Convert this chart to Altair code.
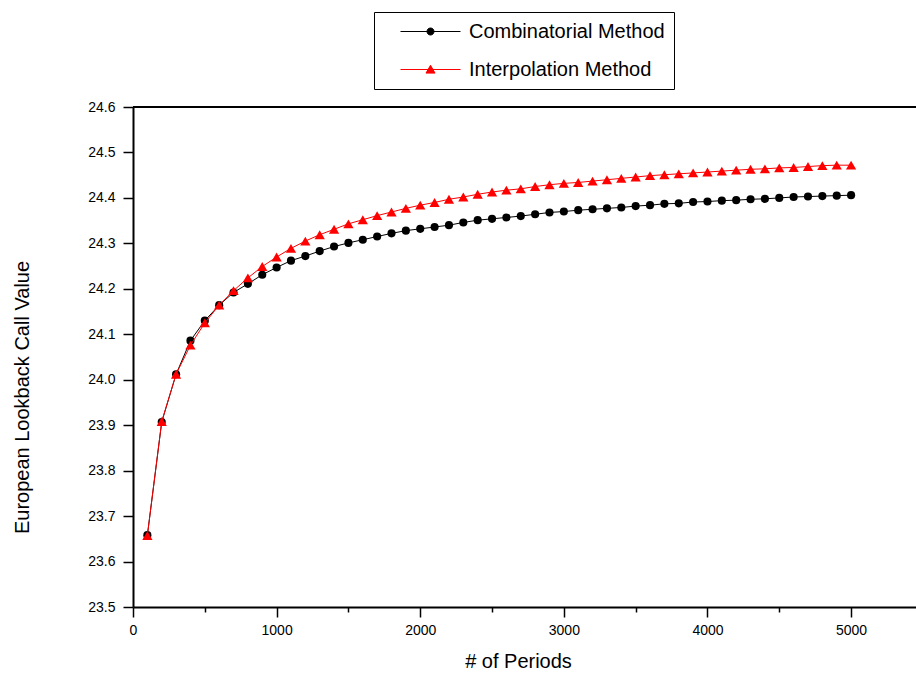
import altair as alt
import pandas as pd

periods = [100, 200, 300, 400, 500, 600, 700, 800, 900, 1000,
           1100, 1200, 1300, 1400, 1500, 1600, 1700, 1800, 1900, 2000,
           2100, 2200, 2300, 2400, 2500, 2600, 2700, 2800, 2900, 3000,
           3100, 3200, 3300, 3400, 3500, 3600, 3700, 3800, 3900, 4000,
           4100, 4200, 4300, 4400, 4500, 4600, 4700, 4800, 4900, 5000]

combinatorial = [23.658, 23.907, 24.012, 24.086, 24.130, 24.164, 24.192, 24.211, 24.231, 24.247,
                 24.262, 24.272, 24.283, 24.293, 24.301, 24.308, 24.315, 24.322, 24.328, 24.332,
                 24.336, 24.340, 24.346, 24.351, 24.354, 24.357, 24.360, 24.364, 24.368, 24.370,
                 24.373, 24.375, 24.377, 24.379, 24.382, 24.384, 24.387, 24.388, 24.391, 24.392,
                 24.394, 24.395, 24.397, 24.398, 24.400, 24.402, 24.403, 24.404, 24.405, 24.406]

interpolation = [23.657, 23.908, 24.012, 24.076, 24.125, 24.164, 24.196, 24.224, 24.249, 24.270,
                 24.289, 24.305, 24.319, 24.331, 24.343, 24.352, 24.361, 24.369, 24.377, 24.384,
                 24.390, 24.397, 24.402, 24.408, 24.413, 24.417, 24.420, 24.425, 24.429, 24.432,
                 24.434, 24.437, 24.440, 24.443, 24.446, 24.449, 24.451, 24.453, 24.455, 24.457,
                 24.459, 24.461, 24.463, 24.464, 24.466, 24.467, 24.469, 24.471, 24.472, 24.472]

series_names = ["Combinatorial Method", "Interpolation Method"]
series_colors = ["#000000", "#ff0000"]
x_ticks = [0, 500, 1000, 1500, 2000, 2500, 3000, 3500, 4000, 4500, 5000]
y_ticks = [23.5, 23.55, 23.6, 23.65, 23.7, 23.75, 23.8, 23.85, 23.9, 23.95, 24.0,
           24.05, 24.1, 24.15, 24.2, 24.25, 24.3, 24.35, 24.4, 24.45, 24.5, 24.55, 24.6]

df = pd.DataFrame({
    "periods": periods + periods,
    "value": combinatorial + interpolation,
    "series": [series_names[0]] * len(periods) + [series_names[1]] * len(periods),
})

FONT = "Liberation Sans"

x_enc = alt.X(
    "periods:Q",
    scale=alt.Scale(domain=[0, 5452], nice=False, zero=False),
    axis=alt.Axis(
        values=x_ticks,
        format="d",
        labelExpr="datum.value % 1000 == 0 ? datum.label : ''",
        tickSize={"condition": {"test": "datum.value % 1000 == 0", "value": 10}, "value": 5},
        tickWidth=1.5,
        domainWidth=2,
        domainColor="black",
        tickColor="black",
        labelColor="black",
        labelFont=FONT,
        labelFontSize=14,
        labelPadding=6,
        labelFlush=False,
        title="# of Periods",
        titleFont=FONT,
        titleFontSize=20,
        titleFontWeight="normal",
        titleColor="black",
        titleX=385,
        titleY=54,
        titleAlign="center",
        titleBaseline="middle",
        grid=False,
    ),
)

y_enc = alt.Y(
    "value:Q",
    scale=alt.Scale(domain=[23.5, 24.6], nice=False, zero=False),
    axis=alt.Axis(
        values=y_ticks,
        labelExpr="abs(datum.value * 10 - round(datum.value * 10)) < 0.001 ? format(datum.value, '.1f') : ''",
        tickSize={"condition": {"test": "abs(datum.value * 10 - round(datum.value * 10)) < 0.001", "value": 10}, "value": 5},
        tickWidth=1.5,
        domainWidth=2,
        domainColor="black",
        tickColor="black",
        labelColor="black",
        labelFont=FONT,
        labelFontSize=14,
        labelPadding=8,
        labelFlush=False,
        title="European Lookback Call Value",
        titleFont=FONT,
        titleFontSize=20,
        titleFontWeight="normal",
        titleColor="black",
        titleX=-111,
        titleY=290,
        titleAngle=270,
        titleAlign="center",
        titleBaseline="middle",
        grid=False,
    ),
)

base = alt.Chart(df)

def series_layers(name, color, shape, size):
    sub = base.transform_filter(alt.datum.series == name)
    line = sub.mark_line(color=color, strokeWidth=1).encode(x=x_enc, y=y_enc)
    pts = sub.mark_point(filled=True, shape=shape, size=size, color=color, opacity=1).encode(x=x_enc, y=y_enc)
    return [line, pts]

top_line = alt.Chart(alt.Data(values=[{}])).mark_rule(color="black", strokeWidth=2).encode(
    y=alt.datum(24.6)
)

circle_path = "M-3,0L3,0M-0.35,0A0.35,0.35,0,1,0,0.35,0A0.35,0.35,0,1,0,-0.35,0Z"
tri_path = "M-3,0L3,0M0,-0.42L0.45,0.36L-0.45,0.36Z"

leg = alt.Legend(
    orient="none",
    legendX=241,
    legendY=-95,
    title=None,
    padding=9,
    rowPadding=17,
    symbolOffset=37,
    labelOffset=28,
    labelLimit=500,
    labelFont=FONT,
    labelFontSize=20,
    labelColor="black",
    labelExpr="datum.label + '\u00a0\u00a0\u00a0\u00a0\u00a0'",
    strokeColor="black",
    fillColor="white",
    symbolSize=400,
    symbolStrokeWidth=1,
)

legend_layer = base.transform_filter("false").mark_point(filled=True, opacity=1).encode(
    x=x_enc,
    y=y_enc,
    fill=alt.Fill("series:N", scale=alt.Scale(domain=series_names, range=series_colors), legend=leg),
    stroke=alt.Stroke("series:N", scale=alt.Scale(domain=series_names, range=series_colors), legend=leg),
    shape=alt.Shape("series:N", scale=alt.Scale(domain=series_names, range=[circle_path, tri_path]), legend=leg),
)

layers = [top_line]
layers += series_layers(series_names[0], series_colors[0], "circle", 66)
layers += series_layers(series_names[1], series_colors[1], "triangle-up", 105)
layers.append(legend_layer)

chart = alt.layer(*layers).properties(
    width=783,
    height=500,
    autosize=alt.AutoSizeParams(type="none"),
    padding={"left": 133, "top": 107, "right": 0, "bottom": 68},
    background="white",
).configure_view(stroke=None)

chart.save("out.html", embed_options={"renderer": "svg", "actions": False})
